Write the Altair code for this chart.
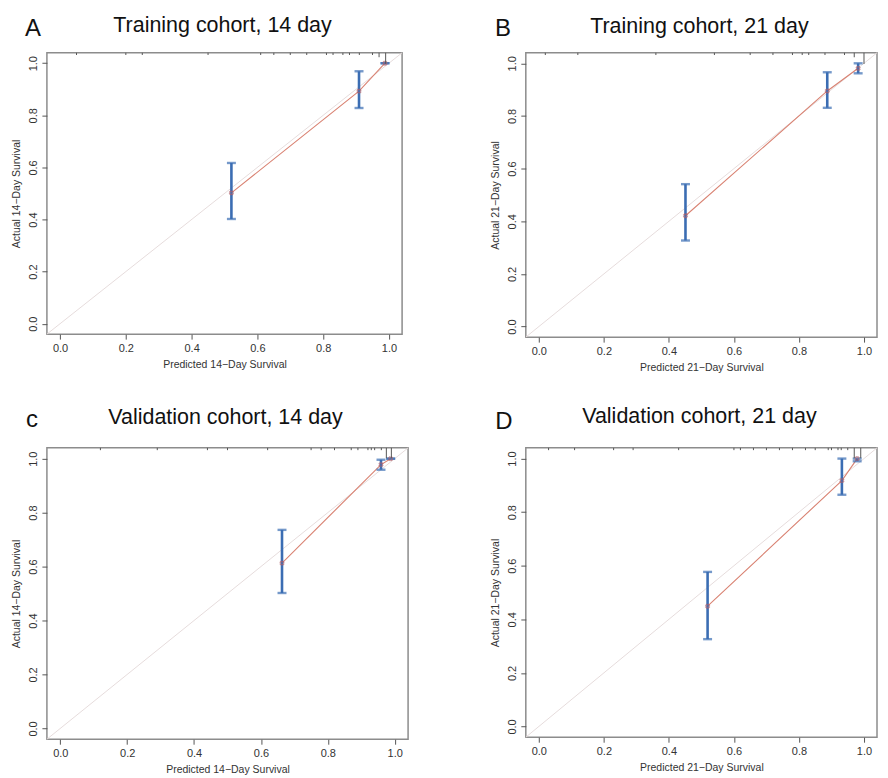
import altair as alt
import pandas as pd

FONT = "Liberation Sans"

letters = ["A", "B", "c", "D"]
titles = ["Training cohort, 14 day", "Training cohort, 21 day",
          "Validation cohort, 14 day", "Validation cohort, 21 day"]
x_titles = ["Predicted 14\u2212Day Survival", "Predicted 21\u2212Day Survival",
            "Predicted 14\u2212Day Survival", "Predicted 21\u2212Day Survival"]
y_titles = ["Actual 14\u2212Day Survival", "Actual 21\u2212Day Survival",
            "Actual 14\u2212Day Survival", "Actual 21\u2212Day Survival"]

# calibration points: predicted, observed, CI low, CI high
pred_A = [0.521, 0.909, 0.988]
obs_A = [0.502, 0.893, 1.0]
lo_A = [0.402, 0.828, 1.0]
hi_A = [0.617, 0.969, 1.0]

pred_B = [0.451, 0.887, 0.982]
obs_B = [0.421, 0.895, 0.981]
lo_B = [0.327, 0.831, 0.962]
hi_B = [0.541, 0.966, 1.0]

pred_C = [0.663, 0.959, 0.988]
obs_C = [0.613, 0.978, 1.0]
lo_C = [0.502, 0.959, 1.0]
hi_C = [0.736, 0.996, 1.0]

pred_D = [0.519, 0.932, 0.979]
obs_D = [0.449, 0.918, 1.0]
lo_D = [0.326, 0.865, 0.99]
hi_D = [0.577, 1.0, 1.0]

# distribution of predictions (rug at top), relative heights
rug_x_A = [0.05, 0.20, 0.25, 0.45, 0.61, 0.65, 0.70, 0.75, 0.81, 0.83, 0.86, 0.88, 0.91, 0.95, 0.97, 0.99]
rug_h_A = [1, 1, 1, 1, 1, 1, 1, 1, 1, 1, 1, 1, 1, 1, 2, 5]
rug_x_B = [0.02, 0.12, 0.36, 0.54, 0.65, 0.72, 0.78, 0.81, 0.83, 0.88, 0.94, 0.97, 1.0]
rug_h_B = [1, 1, 1, 1, 1, 1, 1, 1, 1, 1, 1, 2, 5]
rug_x_C = [0.12, 0.29, 0.44, 0.50, 0.62, 0.75, 0.78, 0.82, 0.87, 0.89, 0.92, 0.93, 0.94, 0.96, 0.975, 0.99]
rug_h_C = [1, 1, 1, 1, 1, 1, 1, 1, 1, 1, 1, 1, 1, 1, 4.5, 4.5]
rug_x_D = [0.03, 0.11, 0.23, 0.29, 0.43, 0.60, 0.62, 0.66, 0.70, 0.74, 0.78, 0.82, 0.85, 0.89, 0.90, 0.92, 0.93, 0.95, 0.97, 0.99]
rug_h_D = [1, 1, 1, 1, 1, 1, 1, 1, 1, 1, 1, 1, 1, 1, 1, 1, 1, 1, 4.5, 4.5]

panels = [
    (pred_A, obs_A, lo_A, hi_A, rug_x_A, rug_h_A),
    (pred_B, obs_B, lo_B, hi_B, rug_x_B, rug_h_B),
    (pred_C, obs_C, lo_C, hi_C, rug_x_C, rug_h_C),
    (pred_D, obs_D, lo_D, hi_D, rug_x_D, rug_h_D),
]

widths = [356, 352, 362, 352]
heights = [282, 285, 292, 290]
letter_pos = [(-14, -17), (-23, -17), (-15, -21), (-22, -19)]
title_pos = [-21, -20, -24, -25]

LO, HI = -0.04, 1.04
BLUE = "#3b6db3"
RED = "#d98272"
ticks = [0.0, 0.2, 0.4, 0.6, 0.8, 1.0]


def make_panel(i):
    pred, obs, lo, hi, rx, rh = panels[i]
    df = pd.DataFrame({"pred": pred, "obs": obs, "lo": lo, "hi": hi})
    diag = pd.DataFrame({"pred": [LO, HI], "obs": [LO, HI]})
    rug = pd.DataFrame({"pred": rx, "top": [HI] * len(rx),
                        "bot": [HI - 0.0085 * h for h in rh]})

    xs = alt.Scale(domain=[LO, HI], nice=False, zero=False)
    ys = alt.Scale(domain=[LO, HI], nice=False, zero=False)
    xaxis = alt.Axis(values=ticks, format=".1f", title=x_titles[i])
    yaxis = alt.Axis(values=ticks, format=".1f", title=y_titles[i],
                     labelAngle=270, labelAlign="center", labelBaseline="bottom")

    def X(f):
        return alt.X(f, type="quantitative", scale=xs, axis=xaxis)

    def Y(f):
        return alt.Y(f, type="quantitative", scale=ys, axis=yaxis)

    diag_l = alt.Chart(diag).mark_line(color="#e6dcdc", strokeWidth=1).encode(x=X("pred"), y=Y("obs"))
    red_l = alt.Chart(df).mark_line(color=RED, strokeWidth=1.1).encode(x=X("pred"), y=Y("obs"))
    bars = alt.Chart(df).mark_rule(color=BLUE, strokeWidth=2.6).encode(
        x=X("pred"), y=Y("lo"), y2="hi")
    cap_lo = alt.Chart(df).mark_tick(color=BLUE, orient="horizontal", size=9, thickness=2.4).encode(
        x=X("pred"), y=Y("lo"))
    cap_hi = alt.Chart(df).mark_tick(color=BLUE, orient="horizontal", size=9, thickness=2.4).encode(
        x=X("pred"), y=Y("hi"))
    pts = alt.Chart(df).mark_point(shape="cross", angle=45, size=16, color="#b0606a",
                                   strokeWidth=1, filled=False).encode(x=X("pred"), y=Y("obs"))
    rug_l = alt.Chart(rug).mark_rule(color="#555555", strokeWidth=1).encode(
        x=X("pred"), y=Y("top"), y2="bot")
    dx, dy = letter_pos[i]
    letter = alt.Chart(pd.DataFrame({"t": [letters[i]]})).mark_text(
        font=FONT, fontSize=24, align="center", baseline="alphabetic", color="#111111"
    ).encode(x=alt.value(dx), y=alt.value(dy), text="t:N")
    title = alt.Chart(pd.DataFrame({"t": [titles[i]]})).mark_text(
        font=FONT, fontSize=21.5, align="center", baseline="alphabetic", color="#111111"
    ).encode(x=alt.value(widths[i] / 2 - 2), y=alt.value(title_pos[i]), text="t:N")

    return alt.layer(diag_l, red_l, bars, cap_lo, cap_hi, pts, rug_l, letter, title).properties(
        width=widths[i], height=heights[i],
    )


chart = alt.ConcatChart(
    concat=[make_panel(i) for i in range(4)],
    columns=2,
    spacing={"row": 111, "column": 118},
    bounds="flush",
).properties(
    padding={"left": 3, "top": 5, "right": 0, "bottom": 0},
).configure_view(
    stroke="#8c8c8c", strokeWidth=1.5,
).configure_axis(
    grid=False, domain=False, tickSize=5, tickColor="#555555", tickWidth=1,
    labelFont=FONT, labelFontSize=11, labelColor="#333333", labelPadding=3,
    titleFont=FONT, titleFontSize=10.5, titleFontWeight="normal", titleColor="#333333",
    titlePadding=6,
)

chart.save("out.html", embed_options={"renderer": "svg", "actions": False})
